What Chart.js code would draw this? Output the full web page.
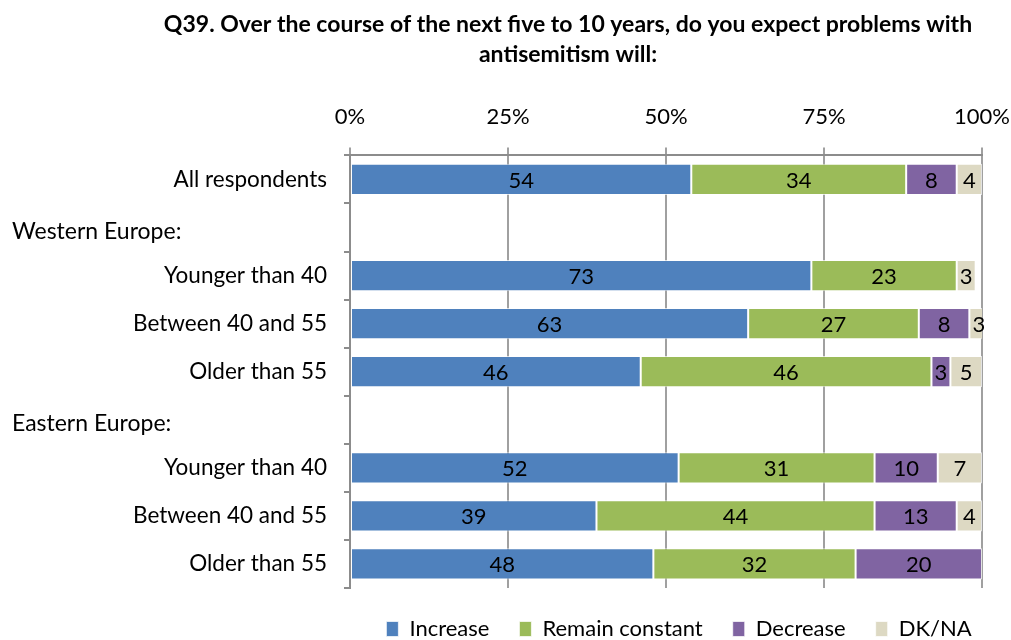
<!DOCTYPE html>
<html>
<head>
<meta charset="utf-8">
<script src="https://cdn.jsdelivr.net/npm/chart.js@4.4.1/dist/chart.umd.min.js"></script>
<style>
    html, body { margin: 0; padding: 0; background: #fff; }
    #wrap { width: 1011px; height: 640px; position: relative; }
</style>
</head>
<body>
<div id="wrap"><canvas id="expectChart"></canvas></div>
<script>
// Rows of the chart; labels ending in ':' are group headers with no bar
const categories = [
    'All respondents',
    'Western Europe:',
    'Younger than 40',
    'Between 40 and 55',
    'Older than 55',
    'Eastern Europe:',
    'Younger than 40',
    'Between 40 and 55',
    'Older than 55'
];

const increase = [54, null, 73, 63, 46, null, 52, 39, 48];
const remainConstant = [34, null, 23, 27, 46, null, 31, 44, 32];
const decrease = [8, null, null, 8, 3, null, 10, 13, 20];
const dkNa = [4, null, 3, 3, 5, null, 7, 4, null];

const xTicks = [0, 25, 50, 75, 100];

const FONT = 'Lato, Calibri, Carlito, sans-serif';
const isHeader = label => label.endsWith(':');

// Writes each segment's value in the middle of its bar
const segmentLabels = {
    id: 'segmentLabels',
    afterDatasetsDraw(chart) {
        const ctx = chart.ctx;
        ctx.save();
        ctx.font = `22px ${FONT}`;
        ctx.fillStyle = '#000';
        ctx.textAlign = 'center';
        ctx.textBaseline = 'middle';
        chart.data.datasets.forEach((ds, i) => {
            const meta = chart.getDatasetMeta(i);
            meta.data.forEach((bar, j) => {
                const v = ds.data[j];
                if (!v) return;
                ctx.fillText(String(v), (bar.x + bar.base) / 2, bar.y + 1);
            });
        });
        ctx.restore();
    }
};

// Group headers sit flush left, unlike the right-aligned row labels
const groupHeaders = {
    id: 'groupHeaders',
    afterDraw(chart) {
        const ctx = chart.ctx;
        const yScale = chart.scales.y;
        ctx.save();
        ctx.font = `23px ${FONT}`;
        ctx.fillStyle = '#000';
        ctx.textAlign = 'left';
        ctx.textBaseline = 'middle';
        categories.forEach((label, i) => {
            if (!isHeader(label)) return;
            ctx.fillText(label, 12, yScale.getPixelForValue(i) + 4);
        });
        ctx.restore();
    }
};

// Title and legend are centred a little right of the canvas middle
const shiftBoxes = {
    id: 'shiftBoxes',
    afterLayout(chart) {
        const move = (box, dx) => {
            if (!box) return;
            box.left += dx;
            box.right += dx;
        };
        move(chart.titleBlock, 77);
        move(chart.legend, 188);
    }
};

const ctx = document.getElementById('expectChart').getContext('2d');

const expectChart = new Chart(ctx, {
    type: 'bar',
    data: {
        labels: categories,
        datasets: [
            { label: 'Increase', data: increase, backgroundColor: '#4F81BD' },
            { label: 'Remain constant', data: remainConstant, backgroundColor: '#9BBB59' },
            { label: 'Decrease', data: decrease, backgroundColor: '#8064A2' },
            { label: 'DK/NA', data: dkNa, backgroundColor: '#DDD9C3' }
        ].map(ds => Object.assign(ds, {
            borderColor: 'rgba(255,255,255,0.7)',
            borderWidth: 1,
            borderSkipped: false,
            barPercentage: 0.65,
            categoryPercentage: 1
        }))
    },
    options: {
        indexAxis: 'y',
        responsive: true,
        maintainAspectRatio: false,
        animation: false,
        layout: { padding: { left: 0, right: 29, top: 0, bottom: -10 } },
        plugins: {
            title: {
                display: true,
                text: [
                    'Q39. Over the course of the next five to 10 years, do you expect problems with',
                    'antisemitism will:'
                ],
                color: '#000',
                font: { family: FONT, size: 23, weight: 'bold', lineHeight: 30 / 23 },
                padding: { top: 10, bottom: 17 }
            },
            legend: {
                position: 'bottom',
                labels: {
                    color: '#000',
                    font: { family: FONT, size: 22 },
                    boxWidth: 12,
                    boxHeight: 15,
                    padding: 30
                }
            },
            tooltip: { enabled: false }
        },
        scales: {
            x: {
                position: 'top',
                stacked: true,
                min: 0,
                max: 100,
                afterBuildTicks(scale) {
                    scale.ticks = xTicks.map(v => ({ value: v }));
                },
                afterFit(scale) {
                    scale.paddingLeft = 0;
                    scale.paddingRight = 0;
                },
                ticks: {
                    color: '#000',
                    font: { family: FONT, size: 22 },
                    padding: 17,
                    callback: v => v + '%'
                },
                grid: {
                    color: '#A0A0A0',
                    lineWidth: 2,
                    tickLength: 8
                },
                border: { color: '#8C8C8C', width: 2 }
            },
            y: {
                stacked: true,
                afterFit(scale) { scale.width = 350; },
                ticks: {
                    color: '#000',
                    font: { family: FONT, size: 22.5 },
                    padding: 17,
                    autoSkip: false,
                    callback: function (v) {
                        const label = categories[v];
                        return isHeader(label) ? '' : label;
                    }
                },
                grid: {
                    drawOnChartArea: false,
                    color: '#8C8C8C',
                    lineWidth: 2,
                    tickLength: 6
                },
                border: { color: '#8C8C8C', width: 2 }
            }
        }
    },
    plugins: [segmentLabels, groupHeaders, shiftBoxes]
});
</script>
</body>
</html>
